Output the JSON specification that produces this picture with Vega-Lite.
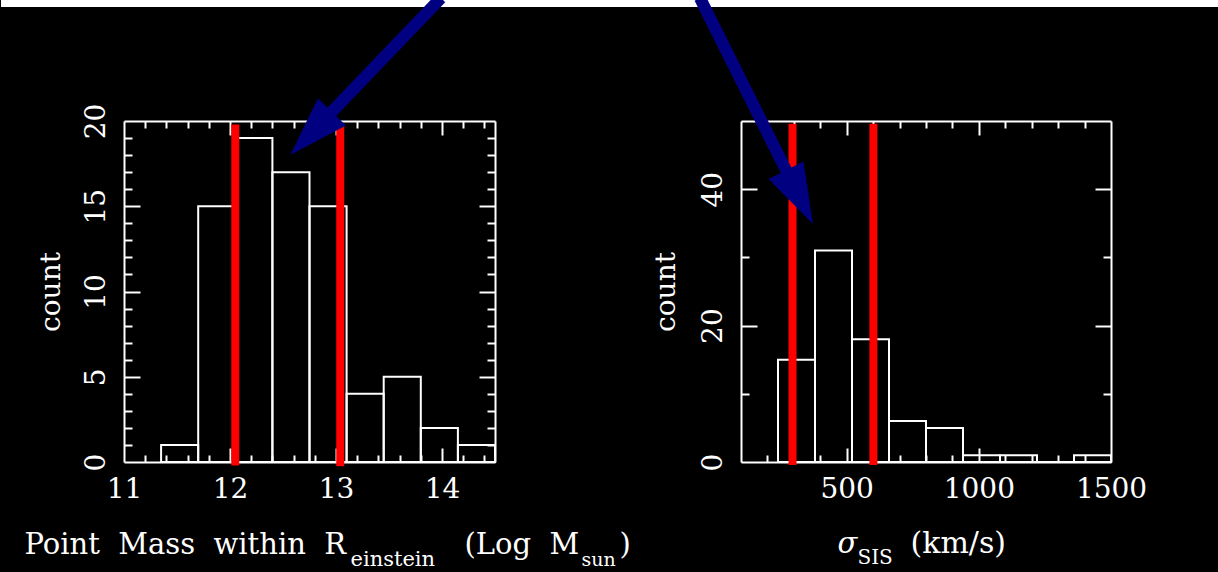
{
  "$schema": "https://vega.github.io/schema/vega-lite/v6.json",
  "background": "#000000",
  "padding": {"left": 0, "top": -8, "right": 0, "bottom": 0},
  "bounds": "flush",
  "spacing": 246,
  "config": {
    "view": {"stroke": null},
    "axis": {
      "grid": false, "domain": false, "labels": false, "ticks": true,
      "tickColor": "#ffffff", "tickWidth": 2, "domainColor": "#ffffff", "domainWidth": 2,
      "labelColor": "#ffffff", "labelFont": "DejaVu Serif", "labelFontSize": 28,
      "labelFlush": false, "labelOverlap": false,
      "titleColor": "#ffffff", "titleFont": "DejaVu Serif", "titleFontSize": 29, "titleFontWeight": "normal",
      "titleAlign": "left", "titleBaseline": "alphabetic"
    }
  },
  "hconcat": [
    {
      "width": 371,
      "height": 341,
      "resolve": {"axis": {"x": "independent", "y": "independent"}},
      "layer": [
        {
          "data": {"values": [{}]},
          "mark": {"type": "rect", "color": "#ffffff"},
          "encoding": {
            "x": {"datum": 9.83962, "type": "quantitative", "scale": {"domain": [11, 14.5], "nice": false, "zero": false},
                  "axis": {"orient": "top", "values": [11.2, 11.4, 11.6, 11.8, 12.2, 12.4, 12.6, 12.8, 13.2, 13.4, 13.6, 13.8, 14.2, 14.4], "tickSize": -7, "title": ")", "titleX": 495, "titleY": 432}},
            "x2": {"datum": 21.33019},
            "y": {"datum": 27.097, "type": "quantitative", "scale": {"domain": [0, 20], "nice": false, "zero": false},
                  "axis": {"orient": "right", "values": [1, 2, 3, 4, 6, 7, 8, 9, 11, 12, 13, 14, 16, 17, 18, 19], "tickSize": -8, "title": null}},
            "y2": {"datum": 26.686}
          }
        },
        {
          "data": {"values": [
            {"s": 11.35, "e": 11.7, "c": 1},
            {"s": 11.7, "e": 12.05, "c": 15},
            {"s": 12.05, "e": 12.4, "c": 19},
            {"s": 12.4, "e": 12.75, "c": 17},
            {"s": 12.75, "e": 13.1, "c": 15},
            {"s": 13.1, "e": 13.45, "c": 4},
            {"s": 13.45, "e": 13.8, "c": 5},
            {"s": 13.8, "e": 14.15, "c": 2},
            {"s": 14.15, "e": 14.5, "c": 1}
          ]},
          "mark": {"type": "rect", "filled": false, "color": "#ffffff", "strokeWidth": 2},
          "encoding": {
            "x": {"field": "s", "type": "quantitative", "scale": {"domain": [11, 14.5], "nice": false, "zero": false},
                  "axis": {"orient": "bottom", "values": [11, 12, 13, 14], "ticks": false, "labels": true, "domain": true,
                           "labelPadding": 35, "labelBaseline": "alphabetic", "labelAlign": "center", "labelAngle": 0,
                           "title": "Point\u00a0\u00a0Mass\u00a0\u00a0within\u00a0\u00a0R", "titleX": -100, "titleY": 91}},
            "x2": {"field": "e"},
            "y": {"field": "c", "type": "quantitative", "scale": {"domain": [0, 20], "nice": false, "zero": false},
                  "axis": {"orient": "left", "values": [0, 5, 10, 15, 20], "ticks": false, "labels": true, "domain": true,
                           "labelAngle": -90, "labelAlign": "center", "labelBaseline": "alphabetic", "labelPadding": 20,
                           "title": "count", "titleFontSize": 28, "titleAngle": -90, "titleAlign": "center", "titleX": -64.5, "titleY": 170.5}},
            "y2": {"datum": 0}
          }
        },
        {
          "data": {"values": [
            {"p": 12.05, "lo": -0.2, "hi": 19.8},
            {"p": 13.04, "lo": -0.25, "hi": 19.7}
          ]},
          "mark": {"type": "rule", "color": "#ff0000", "strokeWidth": 8},
          "encoding": {
            "x": {"field": "p", "type": "quantitative", "scale": {"domain": [11, 14.5], "nice": false, "zero": false},
                  "axis": {"orient": "bottom", "values": [12, 13, 14], "tickSize": -14, "title": "einstein", "titleFontSize": 21, "titleX": 226, "titleY": 103}},
            "y": {"field": "lo", "type": "quantitative", "scale": {"domain": [0, 20], "nice": false, "zero": false},
                  "axis": {"orient": "left", "values": [5, 10, 15], "tickSize": -16, "title": null}},
            "y2": {"field": "hi"}
          }
        },
        {
          "data": {"values": [
            {"x1": 13.9896, "y1": 27.214, "x2": 12.765, "y2": 19.267}
          ]},
          "mark": {"type": "rule", "color": "#000080", "strokeWidth": 12, "strokeCap": "butt"},
          "encoding": {
            "x": {"field": "x1", "type": "quantitative", "scale": {"domain": [11, 14.5], "nice": false, "zero": false},
                  "axis": {"orient": "bottom", "values": [11.2, 11.4, 11.6, 11.8, 12.2, 12.4, 12.6, 12.8, 13.2, 13.4, 13.6, 13.8, 14.2, 14.4], "tickSize": -7, "title": "(Log\u00a0\u00a0M", "titleX": 340, "titleY": 91}},
            "x2": {"field": "x2"},
            "y": {"field": "y1", "type": "quantitative", "scale": {"domain": [0, 20], "nice": false, "zero": false},
                  "axis": {"orient": "left", "values": [1, 2, 3, 4, 6, 7, 8, 9, 11, 12, 13, 14, 16, 17, 18, 19], "tickSize": -8, "title": null}},
            "y2": {"field": "y2"}
          }
        },
        {
          "data": {"values": [
            {"hx": 12.765, "hy": 19.267}
          ]},
          "mark": {"type": "point", "shape": "M0,-1L0.65,1L-0.65,1Z", "size": 3600, "angle": 224, "filled": true, "color": "#000080", "opacity": 1, "strokeWidth": 0},
          "encoding": {
            "x": {"field": "hx", "type": "quantitative", "scale": {"domain": [11, 14.5], "nice": false, "zero": false},
                  "axis": {"orient": "top", "values": [12, 13, 14], "tickSize": -14, "domain": true, "title": "sun", "titleFontSize": 19, "titleX": 457, "titleY": 444}},
            "y": {"field": "hy", "type": "quantitative", "scale": {"domain": [0, 20], "nice": false, "zero": false},
                  "axis": {"orient": "right", "values": [5, 10, 15], "tickSize": -16, "domain": true, "title": null}}
          }
        }
      ]
    },
    {
      "width": 370,
      "height": 341,
      "resolve": {"axis": {"x": "independent", "y": "independent"}},
      "layer": [
        {
          "data": {"values": [{}]},
          "mark": {"type": "rect", "color": "#000000"},
          "encoding": {
            "x": {"datum": -2700, "type": "quantitative", "scale": {"domain": [100, 1500], "nice": false, "zero": false},
                  "axis": {"orient": "top", "values": [200, 300, 400, 600, 700, 800, 900, 1100, 1200, 1300, 1400], "tickSize": -7, "title": null}},
            "x2": {"datum": 1908.6},
            "y": {"datum": -15.982, "type": "quantitative", "scale": {"domain": [0, 50], "nice": false, "zero": false},
                  "axis": {"orient": "right", "values": [10, 30], "tickSize": -8, "title": null}},
            "y2": {"datum": -16.129}
          }
        },
        {
          "data": {"values": [
            {"s": 240, "e": 380, "c": 15},
            {"s": 380, "e": 520, "c": 31},
            {"s": 520, "e": 660, "c": 18},
            {"s": 660, "e": 800, "c": 6},
            {"s": 800, "e": 940, "c": 5},
            {"s": 940, "e": 1080, "c": 1},
            {"s": 1080, "e": 1220, "c": 1},
            {"s": 1220, "e": 1360, "c": 0},
            {"s": 1360, "e": 1500, "c": 1}
          ]},
          "mark": {"type": "rect", "filled": false, "color": "#ffffff", "strokeWidth": 2},
          "encoding": {
            "x": {"field": "s", "type": "quantitative", "scale": {"domain": [100, 1500], "nice": false, "zero": false},
                  "axis": {"orient": "bottom", "values": [500, 1000, 1500], "format": "d", "ticks": false, "labels": true, "domain": true,
                           "labelPadding": 35, "labelBaseline": "alphabetic", "labelAlign": "center", "labelAngle": 0,
                           "title": "σ", "titleFontStyle": "italic", "titleX": 96, "titleY": 90}},
            "x2": {"field": "e"},
            "y": {"field": "c", "type": "quantitative", "scale": {"domain": [0, 50], "nice": false, "zero": false},
                  "axis": {"orient": "left", "values": [0, 20, 40], "ticks": false, "labels": true, "domain": true,
                           "labelAngle": -90, "labelAlign": "center", "labelBaseline": "alphabetic", "labelPadding": 20,
                           "title": "count", "titleFontSize": 28, "titleAngle": -90, "titleAlign": "center", "titleX": -66.5, "titleY": 170.5}},
            "y2": {"datum": 0}
          }
        },
        {
          "data": {"values": [
            {"p": 295, "lo": -0.45, "hi": 49.6},
            {"p": 601, "lo": -0.45, "hi": 49.6}
          ]},
          "mark": {"type": "rule", "color": "#ff0000", "strokeWidth": 8},
          "encoding": {
            "x": {"field": "p", "type": "quantitative", "scale": {"domain": [100, 1500], "nice": false, "zero": false},
                  "axis": {"orient": "bottom", "values": [500, 1000], "tickSize": -14, "title": "SIS", "titleFontSize": 20, "titleX": 116, "titleY": 101}},
            "y": {"field": "lo", "type": "quantitative", "scale": {"domain": [0, 50], "nice": false, "zero": false},
                  "axis": {"orient": "left", "values": [20, 40], "tickSize": -16, "title": null}},
            "y2": {"field": "hi"}
          }
        },
        {
          "data": {"values": [
            {"x1": -55.14, "y1": 68.035, "x2": 321.35, "y2": 38.842}
          ]},
          "mark": {"type": "rule", "color": "#000080", "strokeWidth": 12, "strokeCap": "butt"},
          "encoding": {
            "x": {"field": "x1", "type": "quantitative", "scale": {"domain": [100, 1500], "nice": false, "zero": false},
                  "axis": {"orient": "bottom", "values": [200, 300, 400, 600, 700, 800, 900, 1100, 1200, 1300, 1400], "tickSize": -7, "title": "(km/s)", "titleFontSize": 30, "titleX": 169, "titleY": 90}},
            "x2": {"field": "x2"},
            "y": {"field": "y1", "type": "quantitative", "scale": {"domain": [0, 50], "nice": false, "zero": false},
                  "axis": {"orient": "left", "values": [10, 30], "tickSize": -8, "title": null}},
            "y2": {"field": "y2"}
          }
        },
        {
          "data": {"values": [
            {"hx": 321.35, "hy": 38.842}
          ]},
          "mark": {"type": "point", "shape": "M0,-1L0.65,1L-0.65,1Z", "size": 3600, "angle": 153.3, "filled": true, "color": "#000080", "opacity": 1, "strokeWidth": 0},
          "encoding": {
            "x": {"field": "hx", "type": "quantitative", "scale": {"domain": [100, 1500], "nice": false, "zero": false},
                  "axis": {"orient": "top", "values": [500, 1000], "tickSize": -14, "domain": true, "title": null}},
            "y": {"field": "hy", "type": "quantitative", "scale": {"domain": [0, 50], "nice": false, "zero": false},
                  "axis": {"orient": "right", "values": [20, 40], "tickSize": -16, "domain": true, "title": null}}
          }
        }
      ]
    }
  ]
}
